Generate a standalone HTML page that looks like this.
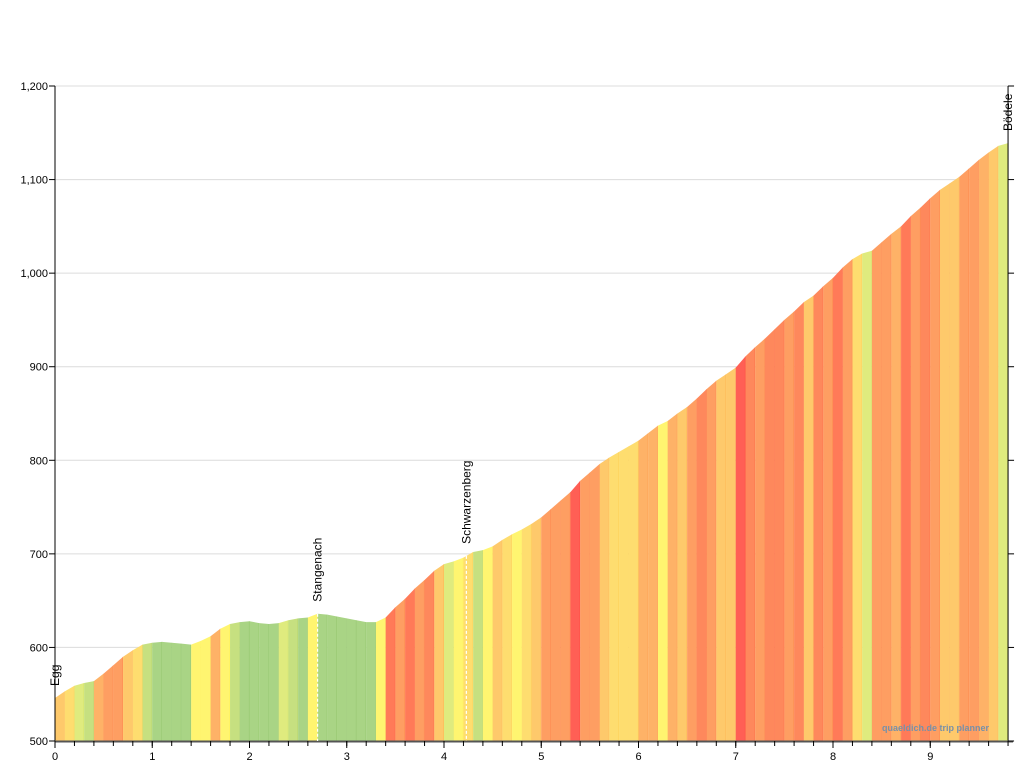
<!DOCTYPE html>
<html><head><meta charset="utf-8"><style>
html,body{margin:0;padding:0;background:#fff;}
svg{display:block;font-family:"Liberation Sans",sans-serif;}
</style></head><body>
<svg id="chart" width="1024" height="768" viewBox="0 0 1024 768" xmlns="http://www.w3.org/2000/svg">
<g id="grid"></g>
<g id="area"></g>
<g id="axes"></g>
<g id="places"></g>
<text x="882" y="731" font-size="9" fill="#7890a8" font-weight="bold">quaeldich.de trip planner</text>
</svg>
<script>
const distances = [0,0.1,0.2,0.3,0.4,0.5,0.6,0.7,0.8,0.9,1.0,1.1,1.2,1.3,1.4,1.5,1.6,1.7,1.8,1.9,2.0,2.1,2.2,2.3,2.4,2.5,2.6,2.7,2.8,2.9,3.0,3.1,3.2,3.3,3.4,3.5,3.6,3.7,3.8,3.9,4.0,4.1,4.2,4.3,4.4,4.5,4.6,4.7,4.8,4.9,5.0,5.1,5.2,5.3,5.4,5.5,5.6,5.7,5.8,5.9,6.0,6.1,6.2,6.3,6.4,6.5,6.6,6.7,6.8,6.9,7.0,7.1,7.2,7.3,7.4,7.5,7.6,7.7,7.8,7.9,8.0,8.1,8.2,8.3,8.4,8.5,8.6,8.7,8.8,8.9,9.0,9.1,9.2,9.3,9.4,9.5,9.6,9.7,9.8];
const elevations = [546,553,559,562,564,572,581,590,597,603,605,606,605,604,603,607,612,620,625,627,628,626,625,626,629,631,632,636,635,633,631,629,627,627,632,643,652,663,672,682,689,692,696,702,704,708,715,721,726,732,739,748,757,766,778,787,796,803,809,815,821,829,837,842,850,857,866,876,885,892,899,911,921,930,940,950,959,969,976,986,995,1006,1015,1021,1024,1033,1042,1050,1061,1070,1080,1089,1096,1103,1112,1121,1129,1136,1139];
const yTicks = [500,600,700,800,900,1000,1100,1200];
const yTickLabels = ["500","600","700","800","900","1,000","1,100","1,200"];
const xTicks = [0,1,2,3,4,5,6,7,8,9];
const placeNames = ["Egg","Stangenach","Schwarzenberg","Bödele"];
const placeKm = [0,2.7,4.23,9.8];

const NS="http://www.w3.org/2000/svg";
const X0=55,KM=97.25,Y0=741,PER=0.9357;
const xs=k=>X0+k*KM;
const ys=e=>Y0-(e-500)*PER;
function mk(tag,attrs,parent){const el=document.createElementNS(NS,tag);for(const k in attrs)el.setAttribute(k,attrs[k]);parent.appendChild(el);return el;}
function color(g){
  if(g<1.5)return"#a9d485";if(g<2.5)return"#c6e080";if(g<3.5)return"#dfeb7e";if(g<5.5)return"#fff570";
  if(g<6.5)return"#fedd6f";if(g<7.5)return"#fec96b";if(g<8.5)return"#feb267";if(g<9.5)return"#fe9e62";
  if(g<10.5)return"#fe885c";if(g<11.5)return"#ff7a58";return"#ff5f55";
}
const xEnd=xs(distances[distances.length-1]);
const grid=document.getElementById('grid');
yTicks.forEach(t=>{const l=mk('line',{x1:X0,x2:xEnd,y1:ys(t),y2:ys(t),stroke:'#dcdcdc','stroke-width':1},grid);

});
const area=document.getElementById('area');
for(let i=0;i<distances.length-1;i++){
  const g=(elevations[i+1]-elevations[i])/((distances[i+1]-distances[i])*10);
  const c=color(g);
  const x1=xs(distances[i]),x2=xs(distances[i+1]);
  const p=mk('polygon',{points:`${x1},${Y0} ${x1},${ys(elevations[i])} ${x2},${ys(elevations[i+1])} ${x2},${Y0}`,fill:c,stroke:'none'},area);
  
  
  const ln=mk('line',{x1:x2,x2:x2,y1:Y0,y2:ys(elevations[i+1]),stroke:c,'stroke-width':1.2},area);
  ln.setAttribute('style','mix-blend-mode:multiply;opacity:0.35');
  
  
}
const axes=document.getElementById('axes');
mk('line',{x1:X0,x2:X0,y1:ys(1200),y2:Y0,stroke:'#000'},axes);
mk('line',{x1:xEnd,x2:xEnd,y1:ys(1200),y2:Y0,stroke:'#000'},axes);
mk('line',{x1:X0,x2:xEnd+5,y1:Y0+0.5,y2:Y0+0.5,stroke:'#555','stroke-width':2},axes);
yTicks.forEach((t,i)=>{
  mk('line',{x1:X0-6,x2:X0,y1:ys(t),y2:ys(t),stroke:'#000'},axes);
  mk('line',{x1:xEnd,x2:xEnd+6,y1:ys(t),y2:ys(t),stroke:'#000'},axes);
  const tx=mk('text',{x:X0-7,y:ys(t)+4,'font-size':11,'text-anchor':'end',fill:'#000'},axes);
  tx.textContent=yTickLabels[i];
  
  
});
for(let k=0;k<=9.8001;k+=0.2){mk('line',{x1:xs(k),x2:xs(k),y1:Y0,y2:Y0+5,stroke:'#000'},axes);}
xTicks.forEach(t=>{
  mk('line',{x1:xs(t),x2:xs(t),y1:Y0,y2:Y0+7,stroke:'#000'},axes);
  const tx=mk('text',{x:xs(t),y:Y0+19,'font-size':11,'text-anchor':'middle',fill:'#000'},axes);
  tx.textContent=t;
  
  
});
const places=document.getElementById('places');
function elevAt(k){for(let i=0;i<distances.length-1;i++){if(k<=distances[i+1]){const f=(k-distances[i])/(distances[i+1]-distances[i]);return elevations[i]+f*(elevations[i+1]-elevations[i]);}}return elevations[elevations.length-1];}
placeNames.forEach((n,i)=>{
  const k=placeKm[i],x=xs(k),top=ys(elevAt(k));
  if(i>0&&i<placeNames.length-1){mk('line',{x1:x,x2:x,y1:top,y2:Y0,stroke:'#fff','stroke-width':1.2,'stroke-dasharray':'3,2'},places);}
  const ty=(i===placeNames.length-1)?131:top-12;
  const tx=mk('text',{x:0,y:0,'font-size':12,fill:'#000','text-anchor':'start',transform:`translate(${x+4},${ty}) rotate(-90)`},places);
  tx.textContent=n;
  
  
});
</script>
</body></html>
